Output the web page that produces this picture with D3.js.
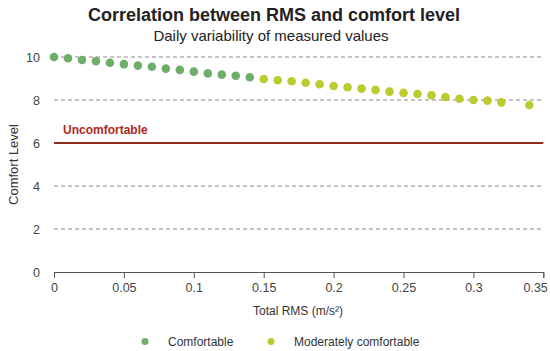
<!DOCTYPE html>
<html><head><meta charset="utf-8">
<script src="https://cdn.jsdelivr.net/npm/d3@7"></script>
<style>
body{margin:0;background:#fff;}
text{font-family:"Liberation Sans",Arial,sans-serif;}
</style></head>
<body><svg id="c" width="550" height="351"></svg>
<script>
const rmsComfortable = [0,0.01,0.02,0.03,0.04,0.05,0.06,0.07,0.08,0.09,0.10,0.11,0.12,0.13,0.14];
const levelComfortable = [10.0,9.94,9.86,9.81,9.73,9.67,9.6,9.55,9.46,9.4,9.32,9.24,9.18,9.13,9.06];
const rmsModerate = [0.15,0.16,0.17,0.18,0.19,0.20,0.21,0.22,0.23,0.24,0.25,0.26,0.27,0.28,0.29,0.30,0.31,0.32,0.34];
const levelModerate = [8.98,8.92,8.87,8.8,8.73,8.65,8.59,8.53,8.47,8.39,8.33,8.28,8.22,8.14,8.06,8.0,7.97,7.89,7.77];
const xTicks = [0,0.05,0.1,0.15,0.2,0.25,0.3,0.35];
const yTicks = [0,2,4,6,8,10];
const uncomfortableLevel = 6;
const seriesNames = ["Comfortable","Moderately comfortable"];
const colors = ["#6fad6a","#bccb30"];

const svg = d3.select("#c");
const x = d3.scaleLinear().domain([0,0.35]).range([54,543.3]);
const y = d3.scaleLinear().domain([0,10]).range([272,57]);

// title
svg.append("text").attr("x",274).attr("y",21).attr("text-anchor","middle")
  .attr("font-size",18).attr("font-weight","bold").attr("fill","#222").text("Correlation between RMS and comfort level");
svg.append("text").attr("x",271).attr("y",41).attr("text-anchor","middle")
  .attr("font-size",15).attr("fill","#222").text("Daily variability of measured values");

// grid
svg.append("g").selectAll("line").data(yTicks.filter(d=>d>0)).join("line")
  .attr("x1",x(0)).attr("x2",x(0.35)).attr("y1",d=>y(d)).attr("y2",d=>y(d))
  .attr("stroke","#888").attr("stroke-width",1).attr("stroke-dasharray","4,3");

// y labels
svg.append("g").selectAll("text").data(yTicks).join("text")
  .attr("x",40).attr("y",d=>y(d)+4.5).attr("text-anchor","end")
  .attr("font-size",12.5).attr("fill","#444").text(d=>d);

// x axis
const xa = svg.append("g").attr("transform",`translate(0,${y(0)})`)
  .call(d3.axisBottom(x).tickValues(xTicks).tickSize(6).tickPadding(5).tickFormat(d=>d3.format("~g")(d)));
xa.select(".domain").attr("stroke","#555");
xa.selectAll(".tick line").attr("stroke","#555");
xa.selectAll(".tick text").attr("font-size",12.5).attr("fill","#444").attr("font-family","Liberation Sans, Arial, sans-serif");
xa.selectAll(".tick").filter(d=>d===0.35).select("text").attr("text-anchor","end").attr("x",4);

// axis titles
svg.append("text").attr("x",298).attr("y",315).attr("text-anchor","middle")
  .attr("font-size",12).attr("fill","#333").text("Total RMS (m/s²)");
svg.append("text").attr("transform",`translate(18,${y(5)}) rotate(-90)`).attr("text-anchor","middle")
  .attr("font-size",13).attr("fill","#333").text("Comfort Level");

// uncomfortable line
svg.append("line").attr("x1",x(0)).attr("x2",x(0.35)).attr("y1",y(uncomfortableLevel)).attr("y2",y(uncomfortableLevel))
  .attr("stroke","#8b2e1c").attr("stroke-width",2);
svg.append("text").attr("x",63).attr("y",y(uncomfortableLevel)-9).attr("font-size",12).attr("font-weight","bold")
  .attr("fill","#b0281a").text("Uncomfortable");

// points
const series = [
  rmsComfortable.map((r,i)=>({r,l:levelComfortable[i]})),
  rmsModerate.map((r,i)=>({r,l:levelModerate[i]}))
];
series.forEach((s,k)=>{
  svg.append("g").selectAll("circle").data(s).join("circle")
    .attr("cx",d=>x(d.r)).attr("cy",d=>y(d.l)).attr("r",4.3).attr("fill",colors[k]);
});

// legend
const legX = [145,271];
seriesNames.forEach((n,k)=>{
  svg.append("circle").attr("cx",legX[k]).attr("cy",341.5).attr("r",3.5).attr("fill",colors[k]);
  svg.append("text").attr("x",legX[k]+23).attr("y",345.5).attr("font-size",12).attr("fill","#333").text(n);
});
</script></body></html>
